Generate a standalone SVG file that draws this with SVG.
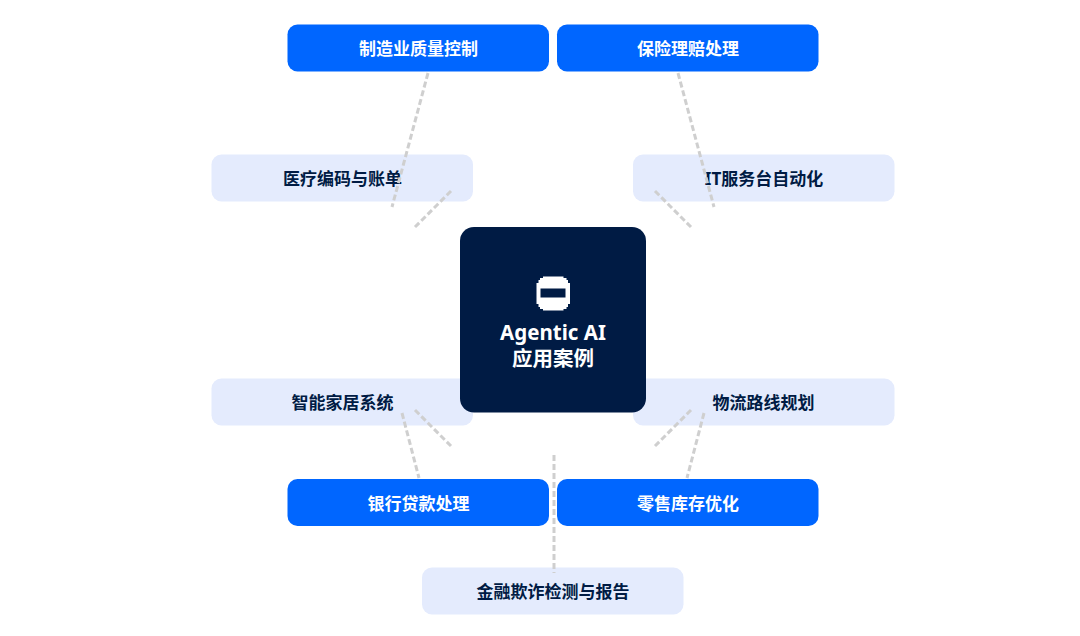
<svg xmlns="http://www.w3.org/2000/svg" width="1080" height="636" viewBox="0 0 1080 636">
<style>
text{font-family:"Noto Sans","Noto Sans CJK SC",sans-serif;font-weight:700;text-anchor:middle}
.b rect{fill:#0066ff}.b text{fill:#fff;font-size:17px}
.l rect{fill:#e4ebfd}.l text{fill:#001b44;font-size:17px}
#connectors line{stroke:#cfcfcf;stroke-width:3;stroke-dasharray:6 3;fill:none}
</style>
<rect width="1080" height="636" fill="#fff"/>
<g id="n-medical" class="l"><rect x="211.500" y="154.500" width="261.500" height="47" rx="10"/><text x="342.500" y="185">医疗编码与账单</text></g>
<g id="n-it" class="l"><rect x="633" y="154.500" width="261.500" height="47" rx="10"/><text x="764" y="185">IT服务台自动化</text></g>
<g id="n-home" class="l"><rect x="211.500" y="378.500" width="261.500" height="47" rx="10"/><text x="342.500" y="409">智能家居系统</text></g>
<g id="n-logistics" class="l"><rect x="633" y="378.500" width="261.500" height="47" rx="10"/><text x="763.500" y="409">物流路线规划</text></g>
<g id="n-fraud" class="l"><rect x="422" y="567.500" width="261.500" height="47" rx="10"/><text x="553" y="598">金融欺诈检测与报告</text></g>
<g id="n-mfg" class="b"><rect x="287.500" y="24.500" width="261.500" height="47" rx="10"/><text x="418.500" y="55">制造业质量控制</text></g>
<g id="n-ins" class="b"><rect x="557" y="24.500" width="261.500" height="47" rx="10"/><text x="688" y="55">保险理赔处理</text></g>
<g id="n-bank" class="b"><rect x="287.500" y="479" width="261.500" height="47" rx="10"/><text x="418.500" y="510">银行贷款处理</text></g>
<g id="n-retail" class="b"><rect x="557" y="479" width="261.500" height="47" rx="10"/><text x="688" y="510">零售库存优化</text></g>
<g id="connectors">
<line x1="428" y1="73" x2="392" y2="207"/>
<line x1="451" y1="191" x2="415" y2="227"/>
<line x1="678" y1="73" x2="714" y2="207"/>
<line x1="655" y1="191" x2="691" y2="227"/>
<line x1="402" y1="413" x2="419" y2="478"/>
<line x1="415" y1="410" x2="451" y2="446"/>
<line x1="704" y1="413" x2="687" y2="478"/>
<line x1="691" y1="410" x2="655" y2="446"/>
<line x1="554" y1="455" x2="554" y2="573"/>
</g>
<g id="n-center"><rect x="460" y="227" width="186" height="185.500" rx="14" fill="#001b44"/>
<path fill="#fff" d="M543 276.500h20.500v1.500h3v2h1.500v3h2v21h-2v3h-1.500v2h-3v1.500h-20.500v-1.500h-3v-2h-1.500v-3h-2v-21h2v-3h1.500v-2h3z"/><rect x="540.500" y="288.500" width="25" height="9" fill="#001b44"/>
<text x="553" y="340" font-size="20.500" fill="#fff">Agentic AI</text><text x="553" y="366" font-size="20.500" fill="#fff">应用案例</text></g>
</svg>
